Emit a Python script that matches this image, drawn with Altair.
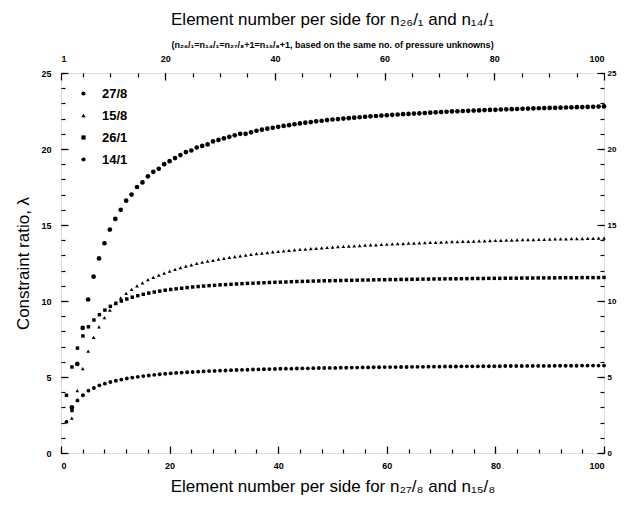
import altair as alt
import pandas as pd

SERIES = ["27/8", "15/8", "26/1", "14/1"]

# element number per side (bottom axis) for 27/8 and 15/8
N_BOTTOM = list(range(2, 101))
# element number per side (top axis) for 26/1 and 14/1
N_TOP = list(range(2, 101))

LAM_27_8 = [3.00, 5.86, 8.23, 10.1, 11.6, 12.8, 13.8, 14.7, 15.4, 16.0,
            16.6, 17.0, 17.5, 17.8, 18.2, 18.5, 18.7, 19.0, 19.2, 19.4,
            19.6, 19.8, 19.9, 20.1, 20.2, 20.3, 20.5, 20.6, 20.7, 20.8,
            20.9, 21.0, 21.0, 21.1, 21.2, 21.27, 21.34, 21.40, 21.46, 21.52,
            21.57, 21.63, 21.68, 21.73, 21.77, 21.82, 21.86, 21.90, 21.94, 21.97,
            22.0, 22.03, 22.06, 22.09, 22.12, 22.15, 22.17, 22.2, 22.22, 22.25,
            22.27, 22.29, 22.31, 22.33, 22.35, 22.37, 22.39, 22.41, 22.43, 22.45,
            22.47, 22.48, 22.5, 22.51, 22.53, 22.54, 22.56, 22.57, 22.58, 22.6,
            22.61, 22.62, 22.63, 22.65, 22.66, 22.67, 22.68, 22.69, 22.7, 22.71,
            22.72, 22.73, 22.74, 22.75, 22.76, 22.77, 22.78, 22.79, 22.8]

LAM_15_8 = [2.3, 4.1, 5.55, 6.7, 7.6, 8.3, 8.9, 9.4, 9.83, 10.2,
            10.5, 10.77, 11.0, 11.2, 11.4, 11.55, 11.7, 11.84, 11.97, 12.08,
            12.19, 12.29, 12.38, 12.47, 12.55, 12.62, 12.68, 12.75, 12.81, 12.87,
            12.92, 12.97, 13.02, 13.07, 13.11, 13.15, 13.19, 13.23, 13.27, 13.30,
            13.33, 13.36, 13.39, 13.42, 13.45, 13.47, 13.50, 13.52, 13.55, 13.57,
            13.59, 13.61, 13.63, 13.65, 13.67, 13.69, 13.70, 13.72, 13.74, 13.75,
            13.77, 13.78, 13.80, 13.81, 13.82, 13.84, 13.85, 13.86, 13.88, 13.89,
            13.90, 13.91, 13.92, 13.93, 13.94, 13.95, 13.96, 13.97, 13.98, 13.99,
            14.0, 14.01, 14.02, 14.03, 14.04, 14.04, 14.05, 14.06, 14.07, 14.08,
            14.08, 14.09, 14.10, 14.10, 14.11, 14.12, 14.12, 14.13, 14.13]

LAM_26_1 = [3.8, 5.66, 6.9, 7.7, 8.3, 8.75, 9.1, 9.4, 9.65, 9.85,
            10.0, 10.13, 10.25, 10.35, 10.44, 10.52, 10.59, 10.65, 10.71, 10.76,
            10.8, 10.84, 10.88, 10.92, 10.95, 10.98, 11.01, 11.03, 11.06, 11.08,
            11.1, 11.12, 11.14, 11.16, 11.17, 11.19, 11.2, 11.22, 11.23, 11.24,
            11.25, 11.27, 11.28, 11.29, 11.3, 11.31, 11.32, 11.33, 11.33, 11.34,
            11.35, 11.36, 11.36, 11.37, 11.38, 11.38, 11.39, 11.4, 11.4, 11.41,
            11.41, 11.42, 11.42, 11.43, 11.43, 11.44, 11.44, 11.45, 11.45, 11.46,
            11.46, 11.46, 11.47, 11.47, 11.48, 11.48, 11.48, 11.49, 11.49, 11.49,
            11.5, 11.5, 11.5, 11.51, 11.51, 11.51, 11.52, 11.52, 11.52, 11.52,
            11.53, 11.53, 11.53, 11.53, 11.54, 11.54, 11.54, 11.54, 11.55]

LAM_14_1 = [2.05, 2.8, 3.45, 3.8, 4.1, 4.28, 4.45, 4.56, 4.67, 4.75,
            4.83, 4.9, 4.96, 5.01, 5.06, 5.1, 5.14, 5.18, 5.21, 5.24,
            5.27, 5.29, 5.31, 5.33, 5.35, 5.37, 5.39, 5.40, 5.42, 5.43,
            5.45, 5.46, 5.47, 5.48, 5.49, 5.50, 5.51, 5.52, 5.53, 5.54,
            5.55, 5.55, 5.56, 5.57, 5.57, 5.58, 5.59, 5.59, 5.60, 5.60,
            5.61, 5.61, 5.62, 5.62, 5.63, 5.63, 5.64, 5.64, 5.65, 5.65,
            5.65, 5.66, 5.66, 5.67, 5.67, 5.67, 5.68, 5.68, 5.68, 5.69,
            5.69, 5.69, 5.70, 5.70, 5.70, 5.70, 5.71, 5.71, 5.71, 5.71,
            5.72, 5.72, 5.72, 5.72, 5.73, 5.73, 5.73, 5.73, 5.73, 5.74,
            5.74, 5.74, 5.74, 5.74, 5.75, 5.75, 5.75, 5.75, 5.75]

BOTTOM_MAJOR = [0, 20, 40, 60, 80, 100]
BOTTOM_MINOR = list(range(0, 101, 4))
TOP_MAJOR = [1, 20, 40, 60, 80, 100]
TOP_MINOR = list(range(5, 100, 5))
Y_MAJOR = [0, 5, 10, 15, 20, 25]
Y_MINOR = list(range(0, 26, 1))


def series_df(ns, lams, name):
    return pd.DataFrame({"n": ns, "lam": lams, "series": [name] * len(ns)})


df_27_8 = series_df(N_BOTTOM, LAM_27_8, "27/8")
df_15_8 = series_df(N_BOTTOM, LAM_15_8, "15/8")
df_26_1 = series_df(N_TOP, LAM_26_1, "26/1")
df_14_1 = series_df(N_TOP, LAM_14_1, "14/1")

W, H = 543, 380
FONT = "Liberation Sans"

xb = alt.Scale(domain=[0, 100], nice=False, zero=False)
xt = alt.Scale(domain=[1, 100], nice=False, zero=False)
ys = alt.Scale(domain=[0, 25], nice=False)
shape_scale = alt.Scale(domain=SERIES, range=["circle", "triangle-up", "square", "circle"])
SIZES = {"27/8": 22, "15/8": 14, "26/1": 12, "14/1": 15}

legend = alt.Legend(orient="none", legendX=16, legendY=14, title=None,
                    labelFontSize=13, labelFont=FONT, labelFontWeight="bold",
                    labelColor="black",
                    symbolFillColor="black", symbolStrokeColor="black",
                    symbolSize=18, rowPadding=8, labelOffset=12,
                    symbolType="circle")


def lbl_axis(orient, values, size=9, **kw):
    return alt.Axis(orient=orient, values=values, ticks=False, domain=False, grid=False,
                    labelFont=FONT, labelFontSize=size, labelFontWeight="bold",
                    labelColor="black", **kw)


def tick_axis(orient, values, size, offset):
    return alt.Axis(orient=orient, values=values, ticks=True, tickSize=size,
                    tickColor="black", tickWidth=1.2, labels=False, domain=False,
                    grid=False, title=None, offset=offset)


bottom_x_axis = lbl_axis(
    "bottom", BOTTOM_MAJOR, labelPadding=8,
    title="Element number per side for n₂₇/₈ and n₁₅/₈",
    titleFont=FONT, titleFontSize=17, titleFontWeight="normal",
    titleColor="black", titlePadding=8)
left_y_axis = lbl_axis(
    "left", Y_MAJOR, labelPadding=10,
    title="Constraint ratio, λ", titleFont=FONT, titleFontSize=17,
    titleFontWeight="normal", titleColor="black", titlePadding=8)
top_x_axis = lbl_axis("top", TOP_MAJOR, labelPadding=10, title=None)
right_y_axis = lbl_axis("right", Y_MAJOR, size=8, labelPadding=3, title=None)


def point_layer(df, xscale, xaxis, yaxis):
    name = df["series"].iloc[0]
    return alt.Chart(df).mark_point(filled=True, color="black", opacity=1,
                                    size=SIZES[name]).encode(
        x=alt.X("n:Q", scale=xscale, axis=xaxis),
        y=alt.Y("lam:Q", scale=ys, axis=yaxis),
        shape=alt.Shape("series:N", scale=shape_scale, legend=legend),
    )


p_27_8 = point_layer(df_27_8, xb, bottom_x_axis, left_y_axis)
p_15_8 = point_layer(df_15_8, xb, None, None)
p_26_1 = point_layer(df_26_1, xt, top_x_axis, right_y_axis)
p_14_1 = point_layer(df_14_1, xt, None, None)


def tick_layer(df, xscale, xorient, xvals, yorient, yvals, size):
    return alt.Chart(df).mark_point(opacity=0).encode(
        x=alt.X("n:Q", scale=xscale,
                axis=tick_axis(xorient, xvals, size, -H)),
        y=alt.Y("lam:Q", scale=ys,
                axis=tick_axis(yorient, yvals, size, -W)),
    )


ticks_a = tick_layer(df_27_8, xb, "top", BOTTOM_MAJOR, "right", Y_MAJOR, 7)
ticks_b = tick_layer(df_27_8, xb, "top", BOTTOM_MINOR, "right", Y_MINOR, 4)
ticks_c = tick_layer(df_26_1, xt, "bottom", TOP_MAJOR, "left", Y_MAJOR, 7)
ticks_d = tick_layer(df_26_1, xt, "bottom", TOP_MINOR, "left", Y_MINOR, 4)

chart = alt.layer(
    ticks_a, ticks_b, ticks_c, ticks_d, p_27_8, p_15_8, p_26_1, p_14_1
).resolve_scale(
    x="independent"
).resolve_axis(
    x="independent", y="independent"
).properties(
    width=W, height=H,
    autosize=alt.AutoSizeParams(type="none"),
    padding={"left": 53, "top": 65, "right": 14, "bottom": 44},
    title=alt.TitleParams(
        text="Element number per side for n₂₆/₁ and n₁₄/₁",
        subtitle="(n₂₆/₁=n₁₄/₁=n₂₇/₈+1=n₁₅/₈+1, based on the same no. of pressure unknowns)",
        font=FONT, fontSize=17, fontWeight="normal", color="black",
        subtitleFont=FONT, subtitleFontSize=9, subtitleFontWeight="bold",
        subtitleColor="black", subtitlePadding=12,
        anchor="middle", frame="group", offset=3,
    ),
).configure_view(
    stroke="black", strokeWidth=1.5
).configure(background="white")

chart.save("out.html", embed_options={"renderer": "svg", "actions": False})
